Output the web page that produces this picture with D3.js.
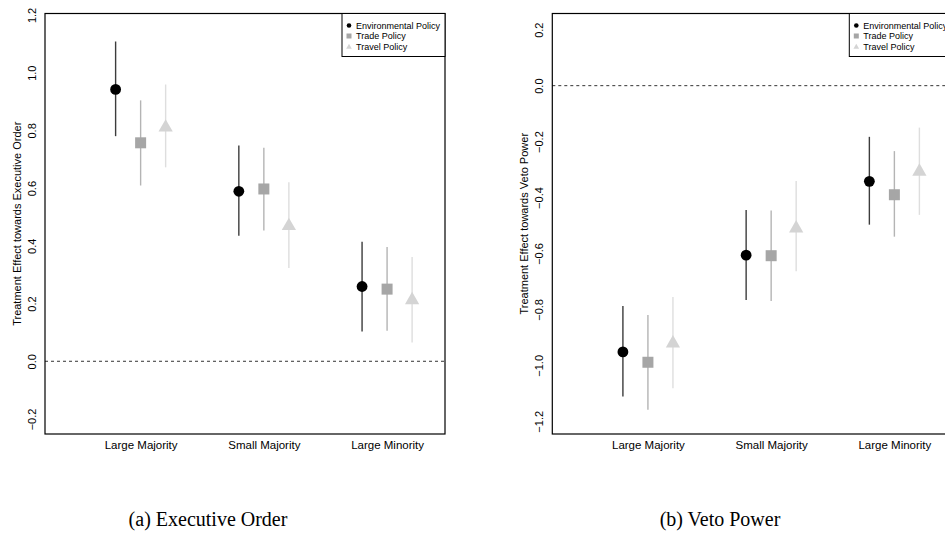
<!DOCTYPE html>
<html>
<head>
<meta charset="utf-8">
<script src="https://cdn.jsdelivr.net/npm/d3@7"></script>
<style>
    body { margin: 0; background: #fff; }
    svg { display: block; }
    text { font-family: "Liberation Sans", Arial, sans-serif; fill: #000; }
    .caption { font-family: "Liberation Serif", "Times New Roman", serif; font-size: 20px; }
</style>
</head>
<body>
<div id="chart"></div>
<script>
// categories and series
const categories = ["Large Majority", "Small Majority", "Large Minority"];
const policies = ["Environmental Policy", "Trade Policy", "Travel Policy"];

// (a) executive order: estimate, lower, upper per policy (rows) x category (cols)
const execEstimate = [
    [0.942, 0.589, 0.259],
    [0.757, 0.597, 0.250],
    [0.817, 0.476, 0.219]
];
const execLower = [
    [0.780, 0.435, 0.103],
    [0.609, 0.453, 0.106],
    [0.672, 0.323, 0.065]
];
const execUpper = [
    [1.108, 0.748, 0.414],
    [0.904, 0.740, 0.396],
    [0.959, 0.620, 0.361]
];
const execTicks = [-0.2, 0.0, 0.2, 0.4, 0.6, 0.8, 1.0, 1.2];

// (b) veto power
const vetoEstimate = [
    [-0.952, -0.606, -0.342],
    [-0.989, -0.608, -0.390],
    [-0.914, -0.503, -0.300]
];
const vetoLower = [
    [-1.111, -0.766, -0.497],
    [-1.159, -0.770, -0.540],
    [-1.082, -0.664, -0.462]
];
const vetoUpper = [
    [-0.788, -0.445, -0.183],
    [-0.820, -0.446, -0.234],
    [-0.756, -0.341, -0.150]
];
const vetoTicks = [-1.2, -1.0, -0.8, -0.6, -0.4, -0.2, 0.0, 0.2];

const pointColors = ["#000000", "#a6a6a6", "#d4d4d4"];
const lineColors = ["#3c3c3c", "#b4b4b4", "#dedede"];
const offsets = [-0.203, 0, 0.203];

const width = 945, height = 546;
const boxW = 400, boxH = 420.5;

const svg = d3.select("#chart")
    .append("svg")
    .attr("width", width)
    .attr("height", height);

const drawPanel = (cfg) => {
    const g = svg.append("g")
        .attr("transform", `translate(${cfg.left}, ${cfg.top})`);

    const xScale = d3.scaleLinear()
        .domain([0.224, 3.47])
        .range([0, boxW]);

    const yScale = d3.scaleLinear()
        .domain(cfg.yDomain)
        .range([boxH, 0]);

    // dashed zero line
    g.append("line")
        .attr("x1", 0)
        .attr("x2", boxW)
        .attr("y1", yScale(0))
        .attr("y2", yScale(0))
        .attr("stroke", "#333")
        .attr("stroke-width", 1)
        .attr("stroke-dasharray", "3 3");

    // y tick labels, rotated like base R
    const leftAxis = d3.axisLeft(yScale)
        .tickValues(cfg.ticks)
        .tickSize(0)
        .tickPadding(0)
        .tickFormat(d => d3.format(".1f")(d).replace("-", "\u2212"));

    const yAxis = g.append("g")
        .attr("transform", "translate(-9, 0)")
        .call(leftAxis);
    yAxis.select(".domain").remove();
    yAxis.selectAll("text")
        .attr("x", 0)
        .attr("dy", 0)
        .attr("text-anchor", "middle")
        .attr("transform", "rotate(-90)")
        .attr("font-size", 11)
        .attr("font-family", "Liberation Sans, Arial, sans-serif");

    // x category labels
    const bottomAxis = d3.axisBottom(xScale)
        .tickValues([1, 2, 3])
        .tickSize(0)
        .tickPadding(7)
        .tickFormat(d => categories[d - 1]);

    const xAxis = g.append("g")
        .attr("transform", `translate(0, ${boxH})`)
        .call(bottomAxis);
    xAxis.select(".domain").remove();
    xAxis.selectAll("text")
        .attr("font-size", 11.5)
        .attr("font-family", "Liberation Sans, Arial, sans-serif");

    // axis title
    g.append("text")
        .attr("transform", `translate(-24, ${boxH / 2}) rotate(-90)`)
        .attr("text-anchor", "middle")
        .attr("font-size", 11)
        .text(cfg.title);

    // error bars and points per policy
    policies.forEach((p, i) => {
        const rows = categories.map((c, j) => ({
            x: xScale(j + 1 + offsets[i]),
            est: cfg.est[i][j],
            lo: cfg.lo[i][j],
            hi: cfg.hi[i][j]
        }));

        g.selectAll(`.ci-${i}`)
            .data(rows)
            .join("line")
            .attr("class", `ci-${i}`)
            .attr("x1", d => d.x)
            .attr("x2", d => d.x)
            .attr("y1", d => yScale(d.lo))
            .attr("y2", d => yScale(d.hi))
            .attr("stroke", lineColors[i])
            .attr("stroke-width", 1.4);

        if (i === 0) {
            g.selectAll(".pt-0")
                .data(rows)
                .join("circle")
                .attr("class", "pt-0")
                .attr("cx", d => d.x)
                .attr("cy", d => yScale(d.est))
                .attr("r", 5.4)
                .attr("fill", pointColors[0]);
        } else if (i === 1) {
            g.selectAll(".pt-1")
                .data(rows)
                .join("rect")
                .attr("class", "pt-1")
                .attr("x", d => d.x - 5.5)
                .attr("y", d => yScale(d.est) - 5.5)
                .attr("width", 11)
                .attr("height", 11)
                .attr("fill", pointColors[1]);
        } else {
            const tri = d3.symbol(d3.symbolTriangle, 88);
            g.selectAll(".pt-2")
                .data(rows)
                .join("path")
                .attr("class", "pt-2")
                .attr("d", tri)
                .attr("transform", d => `translate(${d.x}, ${yScale(d.est) + 2})`)
                .attr("fill", pointColors[2]);
        }
    });

    // frame
    g.append("rect")
        .attr("width", boxW)
        .attr("height", boxH)
        .attr("fill", "none")
        .attr("stroke", "#000")
        .attr("stroke-width", 1.2);

    // legend in top-right corner
    const legW = 103, legH = 43;
    const legend = g.append("g")
        .attr("transform", `translate(${boxW - legW}, 0)`);

    legend.append("rect")
        .attr("width", legW)
        .attr("height", legH)
        .attr("fill", "#fff")
        .attr("stroke", "#000")
        .attr("stroke-width", 1);

    policies.forEach((p, i) => {
        const ly = 12 + i * 10.5;
        if (i === 0) {
            legend.append("circle")
                .attr("cx", 7).attr("cy", ly).attr("r", 2.3)
                .attr("fill", pointColors[0]);
        } else if (i === 1) {
            legend.append("rect")
                .attr("x", 4.5).attr("y", ly - 2.5)
                .attr("width", 5).attr("height", 5)
                .attr("fill", pointColors[1]);
        } else {
            legend.append("path")
                .attr("d", d3.symbol(d3.symbolTriangle, 14)())
                .attr("transform", `translate(7, ${ly + 0.5})`)
                .attr("fill", pointColors[2]);
        }
        legend.append("text")
            .attr("x", 14)
            .attr("y", ly + 3.2)
            .attr("font-size", 9)
            .text(p);
    });

    svg.append("text")
        .attr("class", "caption")
        .attr("x", cfg.captionX)
        .attr("y", 526)
        .attr("text-anchor", "middle")
        .text(cfg.caption);
};

drawPanel({
    left: 45, top: 13.5,
    yDomain: [-0.252, 1.205],
    ticks: execTicks,
    est: execEstimate, lo: execLower, hi: execUpper,
    title: "Treatment Effect towards Executive Order",
    caption: "(a) Executive Order",
    captionX: 208
});

drawPanel({
    left: 552.3, top: 13.5,
    yDomain: [-1.2455, 0.258],
    ticks: vetoTicks,
    est: vetoEstimate, lo: vetoLower, hi: vetoUpper,
    title: "Treatment Effect towards Veto Power",
    caption: "(b) Veto Power",
    captionX: 720
});
</script>
</body>
</html>
